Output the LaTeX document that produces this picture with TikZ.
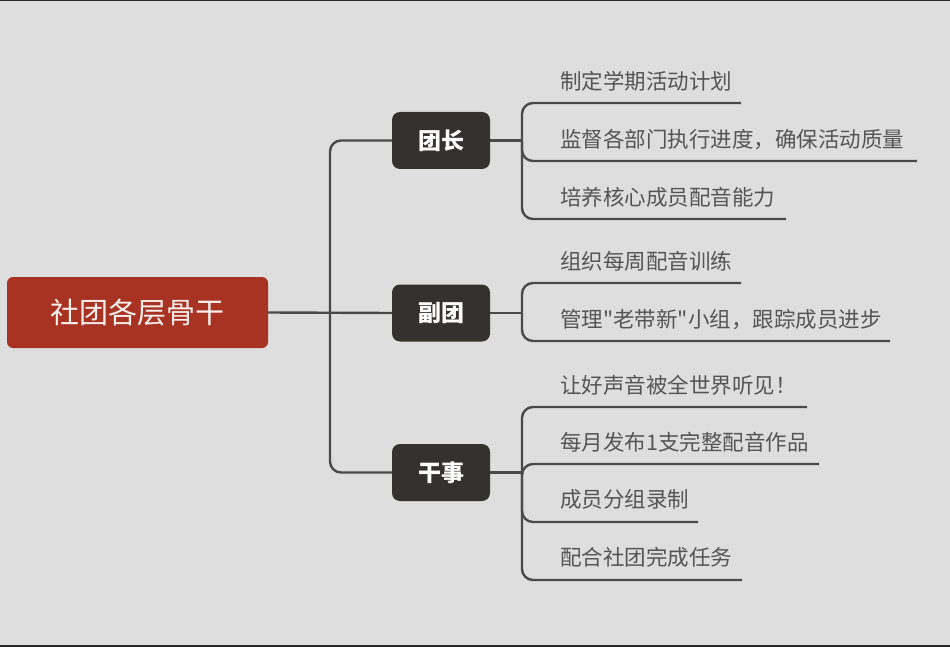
\documentclass[tikz,border=0pt]{standalone}
\usepackage{fontspec}
\setmainfont{Noto Sans CJK SC}[Ligatures=TeXOff]
\definecolor{bgc}{HTML}{DEDEDE}
\definecolor{rootc}{HTML}{A83323}
\definecolor{boxc}{HTML}{33322E}
\definecolor{linec}{HTML}{4A4A4A}
\definecolor{txtc}{HTML}{555555}
\tikzset{
  rootbox/.style={fill=rootc, rounded corners=6pt, minimum width=261pt, minimum height=71pt, text=white!92!rootc, font=\fontsize{29}{32}\selectfont, inner sep=0pt},
  rolebox/.style={fill=boxc, rounded corners=8pt, minimum width=98pt, minimum height=57pt, text=white, font=\fontsize{23}{26}\selectfont\bfseries, inner sep=0pt},
  leaf/.style={anchor=west, text=txtc, font=\fontsize{21.5}{24}\selectfont, inner sep=0pt},
  conn/.style={draw=linec, line width=2.4pt, rounded corners=11pt},
}
\begin{document}
\begin{tikzpicture}[x=1pt,y=-1pt]
\fill[bgc] (0,0) rectangle (950,647);
\useasboundingbox (0,0) rectangle (950,647);
\fill[black!85] (0,0) rectangle (950,1.5);
\fill[black!85] (0,644.5) rectangle (950,647);

\node[rootbox] (root) at (137.5,312.5) {社团各层骨干};
\node[rolebox] (b1) at (441,140.5) {团长};
\node[rolebox] (b2) at (441,313) {副团};
\node[rolebox] (b3) at (441,472.5) {干事};

\coordinate (t) at (330,313);
\draw[conn] (root.east) -- (b2.west);
\draw[conn] (t) |- (b1.west);
\draw[conn] (t) |- (b3.west);

% junctions
\coordinate (j1) at (522,140.5);
\coordinate (j2) at (522,313);
\coordinate (j3) at (522,472.5);
\draw[conn] (b1.east) -- (j1);
\draw[conn] (b2.east) -- (j2);
\draw[conn] (b3.east) -- (j3);

% leaves of 团长
\node[leaf] (l11) at (560,81) {制定学期活动计划};
\node[leaf] (l12) at (560,139.5) {监督各部门执行进度，确保活动质量};
\node[leaf] (l13) at (560,197.5) {培养核心成员配音能力};
\coordinate (u11) at (741,103);
\coordinate (u12) at (917,161);
\coordinate (u13) at (786,219);
\draw[conn] (j1) |- (u11);
\draw[conn] (j1) |- (u12);
\draw[conn] (j1) |- (u13);

% leaves of 副团
\node[leaf] (l21) at (560,261) {组织每周配音训练};
\node[leaf] (l22) at (560,319.5) {管理"老带新"小组，跟踪成员进步};
\coordinate (u21) at (741,283);
\coordinate (u22) at (890,341);
\draw[conn] (j2) |- (u21);
\draw[conn] (j2) |- (u22);

% leaves of 干事
\node[leaf] (l31) at (560,385) {让好声音被全世界听见！};
\node[leaf] (l32) at (560,442) {每月发布1支完整配音作品};
\node[leaf] (l33) at (560,499.5) {成员分组录制};
\node[leaf] (l34) at (560,557) {配合社团完成任务};
\coordinate (u31) at (807,407);
\coordinate (u32) at (819,464);
\coordinate (u33) at (698,522);
\coordinate (u34) at (742,580);
\draw[conn] (j3) |- (u31);
\draw[conn] (j3) |- (u32);
\draw[conn] (j3) |- (u33);
\draw[conn] (j3) |- (u34);
\end{tikzpicture}
\end{document}
